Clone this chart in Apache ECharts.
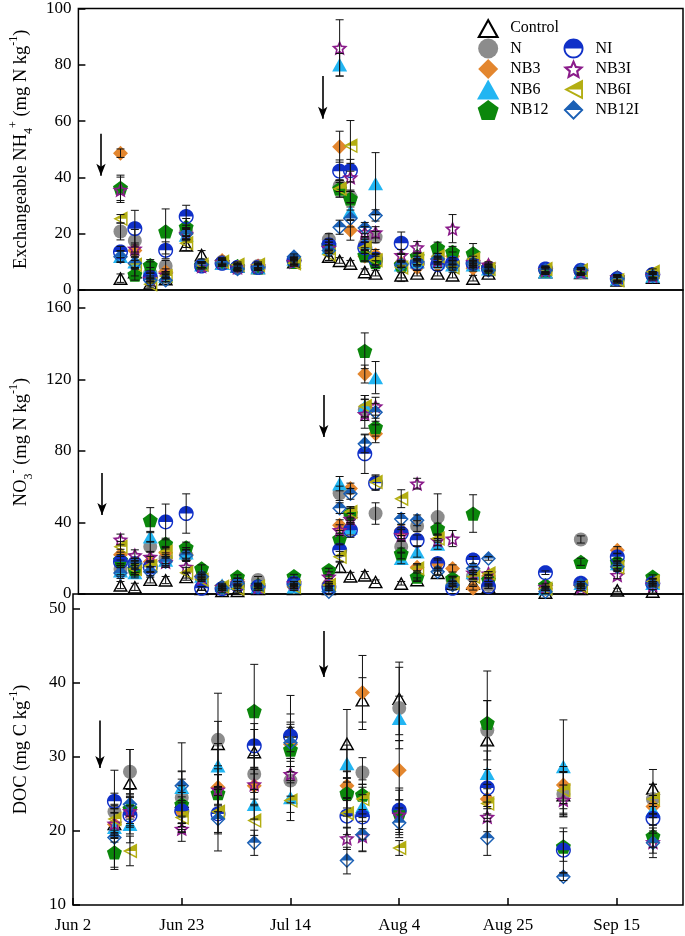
<!DOCTYPE html>
<html><head><meta charset="utf-8">
<script src="https://cdn.jsdelivr.net/npm/echarts@6/dist/echarts.min.js"></script>
<style>html,body{margin:0;padding:0;background:#fff}#c{width:685px;height:936px}</style>
</head><body><div id="c"></div>
<script>
// ---------- data ----------
const xTickLabels = ['Jun 2','Jun 23','Jul 14','Aug 4','Aug 25','Sep 15'];
const xTickStep = 21;
const treatments = ['Control','N','NB3','NB6','NB12','NI','NB3I','NB6I','NB12I'];
const daysN = [8.2, 11, 14, 17, 21, 24, 28, 31, 35, 42, 48.8, 50.9, 53, 55.8, 57.9, 62.9, 66, 70, 72.9, 76.9, 79.9, 91, 97.9, 105, 111.9];
const daysDOC = [8, 11, 21, 28, 35, 42, 52.9, 55.9, 63, 80, 94.7, 112];

// Exchangeable NH4+
const nh4_Control = [4.2, 6.5, 2.5, 4, 16, 12.5, 9.5, 8.5, 8, 10, 12, 10.5, 9.5, 6.5, 6, 5.3, 6, 6, 5.3, 4.2, 6, 6.5, 6.2, 3.5, 4.5];
const nh4_N      = [20.8, 17.5, 6, 8.5, 21, 9, 10, 8, 8.5, 10, 18, 37, 33, 16, 18.8, 9, 10, 11, 10, 8.5, 8, 7, 6.5, 4, 5];
const nh4_NB3    = [48.6, 14, 5, 6.5, 20, 9, 10.5, 8, 8.5, 10, 16, 50.9, 21.2, 12, 12.4, 9.5, 8, 9, 12, 7.7, 8.5, 7.2, 6.3, 4.2, 5.5];
const nh4_NB6    = [12, 10, 8, 5, 19.5, 9, 9.5, 8.5, 8, 11, 15, 80, 28, 17, 37.8, 9, 10, 10, 9, 9, 7.5, 6.5, 6.5, 4, 5];
const nh4_NB12   = [36.3, 5.5, 8.8, 20.8, 22.4, 9, 10, 8.5, 8, 10, 16, 36, 32.5, 12.4, 10, 9, 12, 15, 13.5, 13, 8, 7, 7, 4.5, 5.5];
const nh4_NI     = [13.5, 21.8, 4.5, 14.1, 26.1, 8.5, 9.5, 8, 8, 10.5, 16, 42.2, 42.4, 15, 11, 16.6, 9.5, 9, 9.5, 9.5, 7.5, 7.5, 7, 4, 5.5];
const nh4_NB3I   = [35.6, 14.7, 4, 5.5, 20, 8.5, 10, 8, 8.5, 10, 15, 86, 40, 20.5, 20.5, 12.4, 15.2, 10.5, 21.8, 10, 9, 7, 6.5, 4.5, 5];
const nh4_NB6I   = [25.3, 9, 2, 5, 16.6, 9, 10, 9, 9, 9.5, 12.5, 36, 51.2, 15, 10.6, 8, 11, 12, 8, 11, 7.5, 7.5, 7, 3.5, 6.5];
const nh4_NB12I  = [11.8, 9.5, 3.5, 3.5, 20, 9, 9.5, 7.5, 8, 11.8, 14, 22.3, 25.4, 22, 26.5, 9, 10, 11, 8.5, 9.5, 7, 7, 7, 4, 5];
const nh4e_Control = [1.5,1.5,1,1,2,1.5,1,1,1,1.5,1.5,1,1,1,1,1,1,1,1,1,1,1,1,1,1];
const nh4e_N      = [3,4,2,2,2,1,1,1,1,1,2,2,2,2,2,1,1,1,1,1,1,1,1,1,1];
const nh4e_NB3    = [1.5,2,1,1,2,1,1,1,1,1,2,5.5,3.5,2,2,1,1,1,1.5,1,1,1,1,1,1];
const nh4e_NB6    = [2,2,2,1,2,1,1,1,1,1,2,4,3,2,11,1,1,1,1,1,1,1,1,1,1];
const nh4e_NB12   = [4.5,2,2,8,3,1,1,1,1,1,2,3,3,2,2,1,1,2,2,3.5,1,1,1,1,1];
const nh4e_NI     = [2,6.5,1.5,3,4,1,1,1,1,1,2,4,4,2,2,4,1,1,1,1,1,1,1,1,1];
const nh4e_NB3I   = [4.5,2,1,1,2,1,1,1,1,1,2,10,5,2,2,2,2,1,5,1,1,1,1,1,1];
const nh4e_NB6I   = [1.5,1.5,1,1,1.5,1,1,1,1,1,2,3,9,2,2,5,1,1,1,1,1,1,1,1,1];
const nh4e_NB12I  = [2,2,1,1,2,1,1,1,1,1,2,2.5,3,2,2,1,1,1,1,1,1,1,1,1,1];

// NO3-
const no3_Control = [5, 4, 8.2, 7.8, 9.7, 3, 2, 2, 3, 3, 3, 15.3, 10.1, 10.6, 6.9, 6, 8, 12, 6, 6, 4, 1, 3, 2.2, 1.5];
const no3_N      = [14, 13, 26.4, 20, 21.7, 9, 3, 6, 7.8, 5, 5, 56.3, 44, 103, 45, 26.4, 38, 43, 8, 10, 5, 3, 30.5, 16, 6];
const no3_NB3    = [22, 15, 18, 23, 22, 10, 3, 8, 5, 4, 6, 38.5, 59, 123, 89.6, 35.7, 15, 17, 14.3, 3.2, 10, 3, 5, 24.5, 7.8];
const no3_NB6    = [13, 12, 32, 19, 23, 10, 5, 6, 4, 4, 5, 61.7, 37, 105, 121, 19.9, 23.6, 28, 8, 12, 8, 3, 6, 17, 6];
const no3_NB12   = [19, 14, 41.3, 28.2, 26, 14.3, 4, 9.7, 5, 10, 13.4, 31, 45, 136, 93.3, 22.7, 9.7, 36.6, 8.7, 45, 8, 5, 18, 18, 9.7];
const no3_NI     = [18, 17, 15, 40.3, 45, 3.2, 3, 5, 4, 6, 4, 24.5, 35.7, 78.4, 62, 34, 30, 17, 3.2, 19, 4.1, 11.9, 6, 20.8, 6];
const no3_NB3I   = [30.5, 21.7, 20.8, 18, 15.2, 9, 4, 6, 4, 6, 9.7, 35.7, 42, 100.7, 105, 33, 61.7, 30, 31, 12, 11.5, 4, 4, 10.6, 5];
const no3_NB6I   = [26.4, 14, 15.6, 23.6, 11.9, 8, 4, 3, 4, 4, 5, 20.8, 45.9, 105, 62.6, 53.3, 14.3, 31, 6, 9.7, 11.5, 3, 4, 15, 7];
const no3_NB12I  = [11.7, 17, 12.4, 18, 21.7, 9.7, 3.3, 6, 4, 5, 1.3, 48, 56, 84, 101.6, 42, 41.2, 12.4, 5, 14.3, 19.9, 1.3, 5, 15.2, 5];
const no3e_Control = [2,2,2,2,2,1,1,1,1,1,1,3,2,2,1,1,1,1,1,1,1,1,1,1,1];
const no3e_N      = [3,3,3,3,3,1,1,1,2,1,1,4,4,6,6,3,3,13,2,2,1,1,2,2,1];
const no3e_NB3    = [3,3,3,3,3,1,1,1,1,1,1,3,3,5,5,3,2,2,2,1,1,1,1,2,1];
const no3e_NB6    = [3,3,3,3,3,1,1,1,1,1,1,4,4,6,9,3,3,3,1,1,1,1,1,1,1];
const no3e_NB12   = [3,3,7,3,3,2,1,1,1,1,1,3,3,10,5,3,2,3,1,10.5,1,1,2,2,1];
const no3e_NI     = [3,3,3,10,11,1,1,1,1,1,1,3,4,11,4,3,3,3,1,2,1,1,1,2,1];
const no3e_NB3I   = [3,3,3,3,3,1,1,1,1,1,1,3,3,8,5,3,3,3,4.5,1,1,1,1,2,1];
const no3e_NB6I   = [3,3,3,3,3,1,1,1,1,1,1,3,3,6,4,5,2,2,1,1,1,1,1,1,1];
const no3e_NB12I  = [3,3,3,3,3,2,1,1,1,1,1,3,3,5,5,3,3,2,1,1,1,1,1,2,1];

// DOC
const doc_Control = [21, 26.5, 24, 31.8, 30.7, 33.5, 31.8, 37.7, 37.9, 32.3, 24.9, 25.8];
const doc_N      = [22.6, 28, 24.5, 32.3, 27.7, 26.8, 25, 27.9, 36.6, 33.6, 25, 24.3];
const doc_NB3    = [20.9, 22.5, 22.6, 25.9, 26.1, 31.7, 26.1, 38.7, 28.2, 24.3, 26.2, 23.3];
const doc_NB6    = [20.5, 20.9, 25.9, 28.8, 23.6, 24.5, 29.1, 23.3, 35.2, 27.8, 28.7, 22.8];
const doc_NB12   = [17.1, 23, 23.6, 25.1, 36.2, 31, 25.1, 24.9, 22.5, 34.6, 17.9, 19.3];
const doc_NI     = [24, 22.1, 22.7, 22.3, 31.5, 32.8, 22, 21.9, 22.8, 25.8, 17.4, 21.7];
const doc_NB3I   = [21, 22.7, 20.3, 25.6, 26.3, 27.7, 19, 19.3, 22.2, 21.9, 24.2, 18.5];
const doc_NB6I   = [21.6, 17.3, 21.8, 22.6, 21.4, 24.1, 22.4, 24.3, 17.7, 23.7, 25.5, 24.3];
const doc_NB12I  = [19.1, 23.6, 26.1, 21.6, 18.4, 31.9, 16, 19.5, 21.1, 19, 13.8, 18.4];
const doce_Control = [2, 4.5, 3, 3, 3, 4.8, 4.6, 3, 4.9, 9.3, 3, 2.5];
const doce_N      = [2.5, 3, 3.5, 6.3, 2.5, 3, 3, 2, 5.5, 4, 3, 2];
const doce_NB3    = [1.5, 2, 2, 2.5, 2.5, 3, 2, 5, 4, 2, 2.5, 1.5];
const doce_NB6    = [2, 2.5, 6, 3, 2, 2, 2.5, 3, 3, 3, 6.3, 2];
const doce_NB12   = [2, 2, 2.5, 2.5, 6.3, 3, 2, 2, 3, 3, 2, 1.5];
const doce_NI     = [4.2, 2.5, 2.5, 2.5, 3, 3, 2.5, 3, 3, 2.5, 3, 2];
const doce_NB3I   = [2, 2, 1.7, 2, 2, 3, 1.5, 2, 2, 2, 2, 1.5];
const doce_NB6I   = [2, 2, 2, 3, 2, 2.7, 2, 2, 1, 2, 2.5, 2];
const doce_NB12I  = [4.3, 2, 2, 4.3, 1.7, 2.5, 1.8, 2.3, 2, 2.3, 0.5, 2];

// fertilisation arrows: [day, from, to]
const arrowsNH4 = [[4.4, 55.5, 40.6], [47.6, 76, 60.8]];
const arrowsNO3 = [[4.6, 67.7, 44.2], [47.8, 111.3, 87.8]];
const arrowsDOC = [[5.2, 34.9, 28.5], [48.4, 47, 40.8]];

// ---------- assemble ----------
const panels = [
  {days: daysN, vals: {Control:nh4_Control,N:nh4_N,NB3:nh4_NB3,NB6:nh4_NB6,NB12:nh4_NB12,NI:nh4_NI,NB3I:nh4_NB3I,NB6I:nh4_NB6I,NB12I:nh4_NB12I},
   errs: {Control:nh4e_Control,N:nh4e_N,NB3:nh4e_NB3,NB6:nh4e_NB6,NB12:nh4e_NB12,NI:nh4e_NI,NB3I:nh4e_NB3I,NB6I:nh4e_NB6I,NB12I:nh4e_NB12I}, arrows: arrowsNH4},
  {days: daysN, vals: {Control:no3_Control,N:no3_N,NB3:no3_NB3,NB6:no3_NB6,NB12:no3_NB12,NI:no3_NI,NB3I:no3_NB3I,NB6I:no3_NB6I,NB12I:no3_NB12I},
   errs: {Control:no3e_Control,N:no3e_N,NB3:no3e_NB3,NB6:no3e_NB6,NB12:no3e_NB12,NI:no3e_NI,NB3I:no3e_NB3I,NB6I:no3e_NB6I,NB12I:no3e_NB12I}, arrows: arrowsNO3},
  {days: daysDOC, vals: {Control:doc_Control,N:doc_N,NB3:doc_NB3,NB6:doc_NB6,NB12:doc_NB12,NI:doc_NI,NB3I:doc_NB3I,NB6I:doc_NB6I,NB12I:doc_NB12I},
   errs: {Control:doce_Control,N:doce_N,NB3:doce_NB3,NB6:doce_NB6,NB12:doce_NB12,NI:doce_NI,NB3I:doce_NB3I,NB6I:doce_NB6I,NB12I:doce_NB12I}, arrows: arrowsDOC}
];

// ---------- symbols ----------
function poly(p){ return 'M' + p.map(q => q[0].toFixed(2) + ' ' + q[1].toFixed(2)).join('L') + 'Z'; }
function inset(pts, t){
  const n = pts.length, L = [];
  for (let i = 0; i < n; i++){
    const p = pts[i], q = pts[(i+1)%n];
    const dx = q[0]-p[0], dy = q[1]-p[1], len = Math.hypot(dx, dy);
    L.push([p[0] - dy/len*t, p[1] + dx/len*t, dx, dy]);
  }
  const out = [];
  for (let i = 0; i < n; i++){
    const a = L[(i-1+n)%n], b = L[i];
    const den = a[2]*b[3] - a[3]*b[2];
    const s = ((b[0]-a[0])*b[3] - (b[1]-a[1])*b[2]) / den;
    out.push([a[0] + s*a[2], a[1] + s*a[3]]);
  }
  return out;
}
function clipTop(pts, c){
  const out = [], n = pts.length;
  for (let i = 0; i < n; i++){
    const p = pts[i], q = pts[(i+1)%n];
    const pin = p[1] <= c, qin = q[1] <= c;
    if (pin) out.push(p);
    if (pin !== qin){ const s = (c - p[1]) / (q[1] - p[1]); out.push([p[0] + s*(q[0]-p[0]), c]); }
  }
  return out;
}
function ring(pts, t){ return poly(pts) + poly(inset(pts, t).reverse()); }
function halfRing(pts, t, c){ const inn = inset(pts, t); return poly(pts) + poly(inn.slice().reverse()) + poly(clipTop(inn, c)); }
function circlePts(cx, cy, r){ const a = []; for (let i = 0; i < 40; i++){ const th = -Math.PI/2 + i*2*Math.PI/40; a.push([cx + r*Math.cos(th), cy + r*Math.sin(th)]); } return a; }
function starPts(cx, cy, R, r){ const a = []; for (let i = 0; i < 10; i++){ const th = -Math.PI/2 + i*Math.PI/5; const rr = i%2 ? r : R; a.push([cx + rr*Math.cos(th), cy + rr*Math.sin(th)]); } return a; }
function pentPts(cx, cy, R){ const a = []; for (let i = 0; i < 5; i++){ const th = -Math.PI/2 + i*2*Math.PI/5; a.push([cx + R*Math.cos(th), cy + R*Math.sin(th)]); } return a; }

const T = 1.8;
const symbols = {
  Control: 'path://' + ring([[10,1],[19.5,18],[0.5,18]], T),
  N: 'circle',
  NB3: 'path://' + poly([[10,0.5],[19.5,10],[10,19.5],[0.5,10]]),
  NB6: 'path://' + poly([[10,1],[19.5,18],[0.5,18]]),
  NB12: 'path://' + poly(pentPts(10, 10.5, 10)),
  NI: 'path://' + halfRing(circlePts(10,10,9.5), T, 10),
  NB3I: 'path://' + ring(starPts(10, 10.5, 10, 4.6), 1.9),
  NB6I: 'path://' + halfRing([[0.5,10],[18.5,0.5],[18.5,19.5]], T, 10),
  NB12I: 'path://' + halfRing([[10,0.5],[19.5,10],[10,19.5],[0.5,10]], T, 10)
};
const colors = {Control:'#000000', N:'#8c8c8c', NB3:'#e3862e', NB6:'#22b5f2', NB12:'#0b870b', NI:'#1030c8', NB3I:'#8b1c8b', NB6I:'#b3ae12', NB12I:'#1b60b5'};
const sizes = {Control:15, N:14, NB3:15, NB6:15, NB12:15, NI:15, NB3I:16, NB6I:15, NB12I:15};

const FONT = 'Liberation Serif';

// ---------- layout ----------
const grids = [
  {left:67, right:2, top:7, height:283},
  {left:67, right:2, top:290, height:304},
  {left:67, right:2, top:594, height:311}
].map(g => Object.assign(g, {show:true, borderColor:'#000', borderWidth:1.5, containLabel:false}));

const xAxes = [0,1,2].map(i => ({
  type:'value', gridIndex:i, min:0, max:117.8, interval:xTickStep,
  axisLine:{show:false}, splitLine:{show:false},
  axisTick:{show:i===2, inside:true, length:7, lineStyle:{color:'#000', width:1.5}},
  axisLabel:{show:i===2, margin:12, color:'#000', fontFamily:FONT, fontSize:17, showMaxLabel:false,
    formatter: v => { const k = Math.round(v/xTickStep); return Math.abs(v - k*xTickStep) < 1e-6 ? (xTickLabels[k] || '') : ''; }}
}));

const richBase = {
  s:{fontSize:12, fontFamily:FONT, color:'#000', verticalAlign:'bottom', lineHeight:27},
  p:{fontSize:12, fontFamily:FONT, color:'#000', verticalAlign:'top', lineHeight:27}
};
const yNames = ['Exchangeable NH{s|4}{p|+} (mg N kg{p|-1})', 'NO{s|3}{p|-} (mg N kg{p|-1})', 'DOC (mg C kg{p|-1})'];
const yRanges = [[0,100,20],[0,170,40],[10,52,10]];
const yAxes = [0,1,2].map(i => ({
  type:'value', gridIndex:i, min:yRanges[i][0], max:yRanges[i][1], interval:yRanges[i][2],
  name: yNames[i], nameLocation:'middle', nameRotate:90, nameGap:38,
  nameTextStyle:{fontFamily:FONT, fontSize:18.5, color:'#000', lineHeight:27, rich:richBase},
  axisLine:{show:false}, splitLine:{show:false},
  axisTick:{show:true, inside:true, length:7, lineStyle:{color:'#000', width:1.5}},
  axisLabel:{margin:7, color:'#000', fontFamily:FONT, fontSize:17, showMaxLabel: i===0}
}));

const series = [];
panels.forEach((pn, pi) => {
  treatments.forEach(t => {
    series.push({
      type:'scatter', name:t, xAxisIndex:pi, yAxisIndex:pi,
      symbol: symbols[t], symbolSize: sizes[t], symbolKeepAspect:true,
      itemStyle:{color: colors[t], opacity:1},
      z:2, animation:false, silent:true,
      data: pn.days.map((d, k) => [d, pn.vals[t][k]]).filter(p => p[1] != null)
    });
  });
  const eb = [];
  treatments.forEach(t => {
    pn.days.forEach((d, k) => {
      const v = pn.vals[t][k], e = pn.errs[t][k];
      if (v != null && e) eb.push([d, v - e, v + e]);
    });
  });
  series.push({
    type:'custom', xAxisIndex:pi, yAxisIndex:pi, z:3, animation:false, silent:true,
    encode:{x:0, y:[1,2]},
    data: eb,
    renderItem: (params, api) => {
      const x = api.value(0);
      const a = api.coord([x, api.value(1)]), b = api.coord([x, api.value(2)]);
      const w = 4, st = {stroke:'#111', lineWidth:1};
      return {type:'group', children:[
        {type:'line', shape:{x1:a[0], y1:a[1], x2:b[0], y2:b[1]}, style:st},
        {type:'line', shape:{x1:a[0]-w, y1:a[1], x2:a[0]+w, y2:a[1]}, style:st},
        {type:'line', shape:{x1:b[0]-w, y1:b[1], x2:b[0]+w, y2:b[1]}, style:st}
      ]};
    },
    markLine:{
      silent:true, animation:false, symbol:['none','arrow'], symbolSize:[7,12],
      lineStyle:{color:'#000', width:1.6, type:'solid'}, label:{show:false},
      data: pn.arrows.map(a => [{coord:[a[0], a[1]]}, {coord:[a[0], a[2]]}])
    }
  });
});

const legendCommon = {
  orient:'vertical', itemWidth:34, itemHeight:20, itemGap:0.5, symbolKeepAspect:true,
  textStyle:{fontFamily:FONT, fontSize:16, color:'#000'}, selectedMode:false
};
const option = {
  backgroundColor:'#fff',
  animation:false,
  grid: grids, xAxis: xAxes, yAxis: yAxes,
  legend:[
    Object.assign({left:472, top:13, data:['Control','N','NB3','NB6','NB12']}, legendCommon),
    Object.assign({left:558, top:33.5, data:['NI','NB3I','NB6I','NB12I']}, legendCommon)
  ],
  series: series
};
const chart = echarts.init(document.getElementById('c'), null, {renderer:'canvas'});
chart.setOption(option);
</script>
</body></html>
